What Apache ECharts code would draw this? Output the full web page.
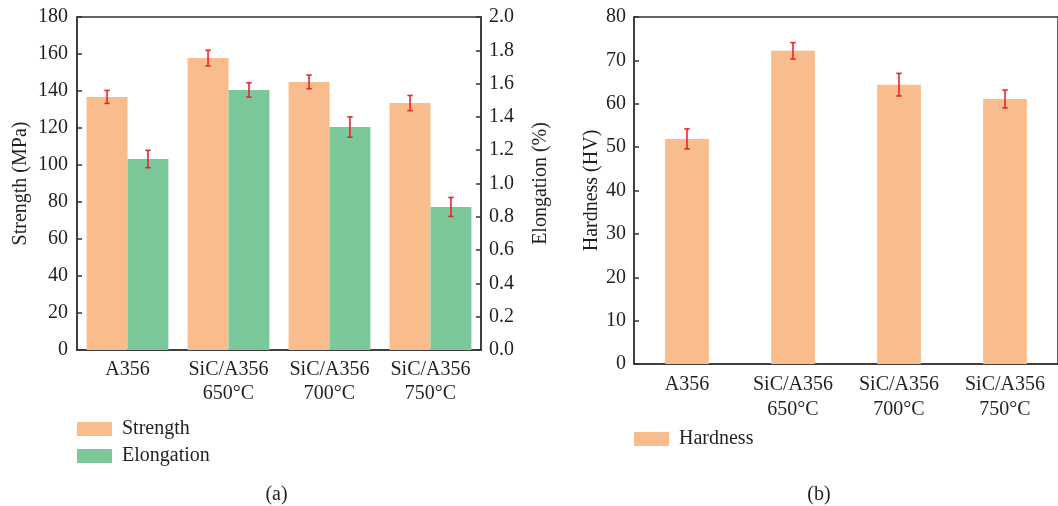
<!DOCTYPE html>
<html>
<head>
<meta charset="utf-8">
<script src="https://cdn.jsdelivr.net/npm/echarts@6/dist/echarts.min.js"></script>
<style>
html,body{margin:0;padding:0;background:#fff;}
#c{width:1058px;height:506px;}
</style>
</head>
<body>
<div id="c"></div>
<script>
// ---- data ----
var categories = ['A356', 'SiC/A356\n650°C', 'SiC/A356\n700°C', 'SiC/A356\n750°C'];
var strength = [136.8, 157.8, 144.9, 133.5];
var strengthErr = [3.5, 4.2, 3.7, 4.1];
var elongation = [1.147, 1.562, 1.339, 0.859];
var elongationErr = [0.052, 0.043, 0.061, 0.057];
var hardness = [51.9, 72.2, 64.4, 61.1];
var hardnessErr = [2.3, 1.9, 2.6, 2.05];
var strengthTicks = {min: 0, max: 180, interval: 20};
var elongTicks = {min: 0, max: 2.0, interval: 0.2};
var hardTicks = {min: 0, max: 80, interval: 10};

var FONT = 'Liberation Serif';
var FS = 20;
var TXT = '#231f20';
var ORANGE = '#F9BD8D';
var GREEN = '#7BC99A';
var RED = '#E8262B';
var AXIS = '#333333';
var BW_A = 0.405; // bar width fraction (grouped)
var BW_B = 0.413; // bar width fraction (single)

function errSeries(name, xi, yi, vals, errs, frac, offSign) {
  var data = vals.map(function (v, i) { return [i, v - errs[i], v + errs[i]]; });
  return {
    type: 'custom', name: name, xAxisIndex: xi, yAxisIndex: yi, z: 10,
    data: data, silent: true,
    renderItem: function (params, api) {
      var i = api.value(0);
      var lo = api.coord([i, api.value(1)]);
      var hi = api.coord([i, api.value(2)]);
      var cw = api.size([1, 0])[0];
      var x = lo[0] + offSign * cw * frac / 2;
      var cap = 2.7;
      var st = {stroke: RED, lineWidth: 1.6};
      return {
        type: 'group',
        children: [
          {type: 'line', shape: {x1: x, y1: hi[1], x2: x, y2: lo[1]}, style: st},
          {type: 'line', shape: {x1: x - cap, y1: hi[1], x2: x + cap, y2: hi[1]}, style: st},
          {type: 'line', shape: {x1: x - cap, y1: lo[1], x2: x + cap, y2: lo[1]}, style: st}
        ]
      };
    }
  };
}

function yAx(grid, pos, t, name, gap, margin, fmt) {
  return {
    type: 'value', gridIndex: grid, position: pos,
    min: t.min, max: t.max, interval: t.interval,
    name: name, nameLocation: 'middle', nameGap: gap, nameRotate: 90,
    nameTextStyle: {fontFamily: FONT, fontSize: FS, color: TXT},
    axisLine: {show: true, lineStyle: {color: AXIS, width: 1.5}},
    axisTick: {show: true, inside: true, length: 5, lineStyle: {color: AXIS, width: 1.5}},
    axisLabel: {fontFamily: FONT, fontSize: FS, color: TXT, margin: margin, formatter: fmt},
    splitLine: {show: false}
  };
}

function xAx(grid, lh) {
  return {
    type: 'category', gridIndex: grid, data: categories,
    axisLine: {show: true, lineStyle: {color: AXIS, width: 1.5}},
    axisTick: {show: false},
    axisLabel: {fontFamily: FONT, fontSize: FS, color: TXT, margin: 8, lineHeight: lh, interval: 0},
    splitLine: {show: false}
  };
}

var chart = echarts.init(document.getElementById('c'), null, {renderer: 'canvas'});
chart.setOption({
  animation: false,
  backgroundColor: '#ffffff',
  grid: [
    {left: 77, top: 17, width: 404, height: 333, show: true, borderColor: AXIS, borderWidth: 1.5, containLabel: false},
    {left: 634, top: 17, width: 427, height: 347, show: true, borderColor: AXIS, borderWidth: 1.5, containLabel: false}
  ],
  xAxis: [xAx(0, 24), xAx(1, 25)],
  yAxis: [
    yAx(0, 'left', strengthTicks, 'Strength (MPa)', 46, 9, null),
    yAx(0, 'right', elongTicks, 'Elongation (%)', 50, 8, function (v) { return v.toFixed(1); }),
    yAx(1, 'left', hardTicks, 'Hardness (HV)', 32, 8, null)
  ],
  legend: [
    {
      data: ['Strength', 'Elongation'], orient: 'vertical', left: 77, top: 415.5,
      itemWidth: 35, itemHeight: 14, itemGap: 0, icon: 'rect',
      textStyle: {fontFamily: FONT, fontSize: FS, color: TXT, lineHeight: 27, padding: [0, 0, 0, 5]},
      padding: 0, selectedMode: false
    },
    {
      data: ['Hardness'], orient: 'vertical', left: 634, top: 425.5,
      itemWidth: 35, itemHeight: 14, itemGap: 0, icon: 'rect',
      textStyle: {fontFamily: FONT, fontSize: FS, color: TXT, lineHeight: 27, padding: [0, 0, 0, 5]},
      padding: 0, selectedMode: false
    }
  ],
  graphic: [
    {type: 'text', style: {text: '(a)', x: 276.5, y: 495, align: 'center', verticalAlign: 'middle', font: FS + 'px "Liberation Serif"', fill: TXT}},
    {type: 'text', style: {text: '(b)', x: 819, y: 495, align: 'center', verticalAlign: 'middle', font: FS + 'px "Liberation Serif"', fill: TXT}}
  ],
  series: [
    {name: 'Strength', type: 'bar', xAxisIndex: 0, yAxisIndex: 0, data: strength,
     barWidth: (BW_A * 100) + '%', barGap: '0%', itemStyle: {color: ORANGE}},
    {name: 'Elongation', type: 'bar', xAxisIndex: 0, yAxisIndex: 1, data: elongation,
     barWidth: (BW_A * 100) + '%', barGap: '0%', itemStyle: {color: GREEN}},
    {name: 'Hardness', type: 'bar', xAxisIndex: 1, yAxisIndex: 2, data: hardness,
     barWidth: (BW_B * 100) + '%', itemStyle: {color: ORANGE}},
    errSeries('sErr', 0, 0, strength, strengthErr, BW_A, -1),
    errSeries('eErr', 0, 1, elongation, elongationErr, BW_A, 1),
    errSeries('hErr', 1, 2, hardness, hardnessErr, BW_B, 0)
  ]
});
</script>
</body>
</html>
